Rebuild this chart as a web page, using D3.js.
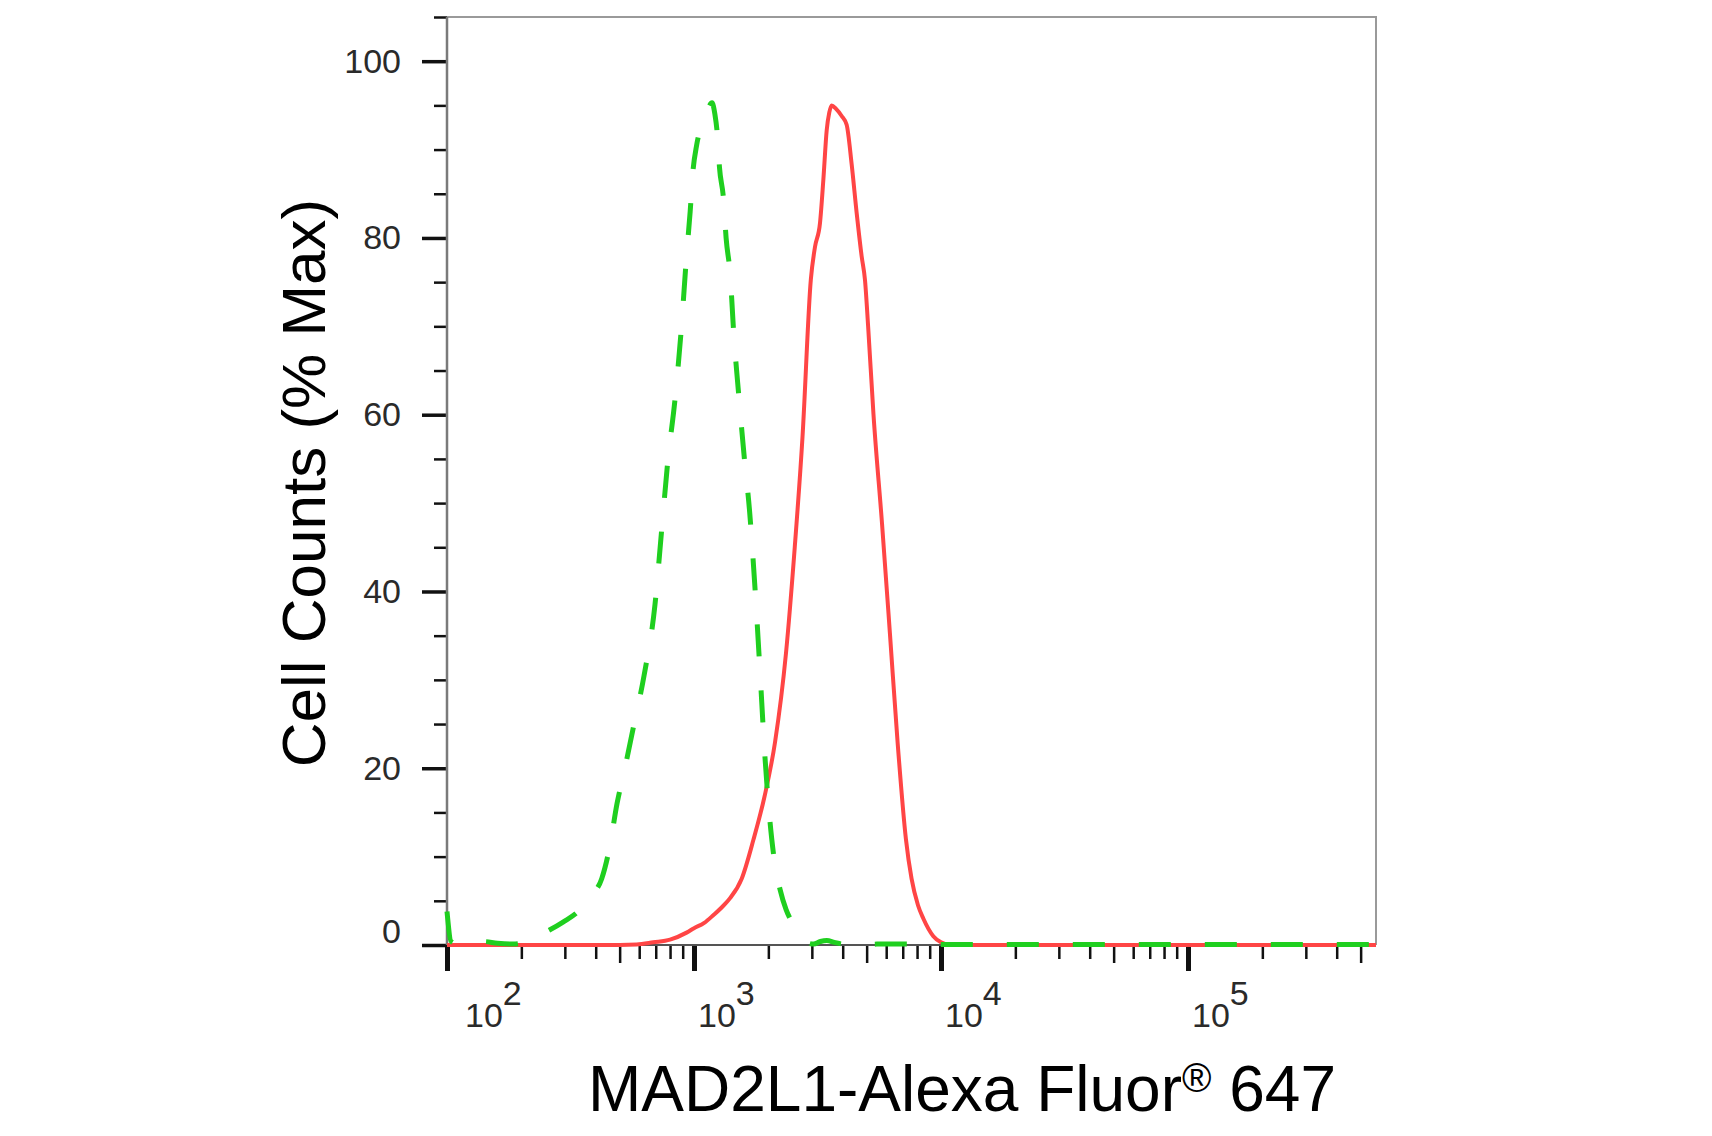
<!DOCTYPE html>
<html>
<head>
<meta charset="utf-8">
<script src="https://cdn.jsdelivr.net/npm/d3@7"></script>
<style>
  body { margin: 0; background: #fff; }
  svg { display: block; }
</style>
</head>
<body>
<div id="chart"></div>
<script>
// isotype control (green dashed) and MAD2L1 stained (red solid) histograms
const isotypeX = [100, 104, 112, 125, 140, 160, 185, 205, 227, 260, 295, 340, 385, 423, 455, 488, 525, 567, 628, 695, 740, 785, 836, 890, 933, 965, 990, 1025, 1080, 1124, 1183, 1215, 1245, 1268, 1316, 1349, 1400, 1450, 1520, 1600, 1680, 1760, 1850, 1930, 2030, 2130, 2230, 2360, 2490, 2650, 2850, 3050, 3250, 3450, 3700, 4000, 4600, 5500, 6500, 8000, 10000, 15000, 25000, 40000, 70000, 120000, 200000, 350000, 570000];
const isotypeY = [3.8, 0.4, 0.1, 0.3, 0.4, 0.2, 0.1, 0.3, 0.9, 1.7, 2.6, 3.8, 5.6, 7.5, 11, 16, 20, 24.5, 30.5, 38.5, 47, 55, 61.5, 70, 78, 83, 87.5, 90.5, 93, 94.2, 95.3, 94, 91.5, 88, 84.5, 80, 76, 69, 62, 55, 49, 41, 31, 22, 14, 9, 6.3, 4, 2.6, 1.2, 0.3, 0.1, 0.4, 0.5, 0.3, 0.1, 0, 0.1, 0.1, 0.1, 0.05, 0.05, 0.05, 0.05, 0.05, 0.05, 0.05, 0.05, 0.05];

const mad2l1X = [100, 300, 500, 586, 684, 800, 933, 1000, 1100, 1200, 1300, 1400, 1560, 1740, 1930, 2130, 2357, 2558, 2750, 2972, 3090, 3237, 3340, 3446, 3530, 3606, 3760, 3962, 4150, 4346, 4557, 4774, 4925, 5070, 5330, 5770, 6210, 6670, 7210, 7600, 8070, 8480, 9310, 10000, 10870, 20000, 50000, 100000, 200000, 577000];
const mad2l1Y = [0, 0, 0, 0.05, 0.3, 0.6, 1.4, 1.9, 2.5, 3.4, 4.3, 5.3, 7.5, 11.9, 16.8, 23, 33, 45, 57.5, 75.3, 79, 81.7, 86.6, 92.2, 94.2, 95, 94.6, 93.8, 92.8, 88.4, 82.8, 77.9, 75.2, 70, 60, 47.7, 35.3, 23, 12, 7.5, 4.5, 3.0, 1.0, 0.3, 0, 0, 0, 0, 0, 0];

// axis ticks and labels
const xDecades = [2, 3, 4, 5];
const yMajorTicks = [0, 20, 40, 60, 80, 100];
const xTitle = "MAD2L1-Alexa Fluor";
const xTitleMark = "®";
const xTitleEnd = " 647";
const yTitle = "Cell Counts (% Max)";

const W = 1712, H = 1136;
const plot = { left: 447, right: 1376, top: 17, bottom: 945 };

const svg = d3.select('#chart')
    .append('svg')
    .attr('width', W)
    .attr('height', H);

svg.append('rect').attr('width', W).attr('height', H).attr('fill', '#fff');

const xScale = d3.scaleLog().domain([100, 577000]).range([plot.left, plot.right]);
const yScale = d3.scaleLinear().domain([0, 105]).range([plot.bottom, plot.top]);

// frame (top and right edges)
svg.append('path')
    .attr('d', `M${plot.left},${plot.top}H${plot.right}V${plot.bottom}`)
    .attr('fill', 'none')
    .attr('stroke', '#9a9a9a')
    .attr('stroke-width', 2);

// y axis
const yMinorTicks = d3.range(5, 110, 5).filter(v => v % 20 !== 0);

const yMinor = svg.append('g')
    .attr('transform', 'translate(' + plot.left + ',0)')
    .call(d3.axisLeft(yScale).tickValues(yMinorTicks).tickSize(13).tickFormat(''));
yMinor.select('.domain').remove();
yMinor.selectAll('.tick line').attr('stroke', '#111').attr('stroke-width', 2.5);

const yMajor = svg.append('g')
    .attr('transform', 'translate(' + plot.left + ',0)')
    .call(d3.axisLeft(yScale).tickValues(yMajorTicks).tickSize(25).tickPadding(21));
yMajor.select('.domain').remove();
yMajor.selectAll('.tick line').attr('stroke', '#111').attr('stroke-width', 3.5);
yMajor.selectAll('.tick text')
    .attr('fill', '#2a2a2a')
    .style('font-family', '"Liberation Sans Narrow", "Arial Narrow", "Liberation Sans", sans-serif')
    .style('font-size', '34px')
    .filter(d => d === 0)
    .attr('dy', '-0.08em');

svg.append('line')
    .attr('x1', plot.left).attr('x2', plot.left)
    .attr('y1', plot.top).attr('y2', plot.bottom)
    .attr('stroke', '#7a7a7a')
    .attr('stroke-width', 2.5);

// x axis
const xMinorTicks = [];
xDecades.forEach(d => {
    for (let m = 2; m <= 9; m++) {
        const v = m * Math.pow(10, d);
        if (v <= xScale.domain()[1]) xMinorTicks.push(v);
    }
});

const xMinor = svg.append('g')
    .attr('transform', 'translate(0,' + plot.bottom + ')')
    .call(d3.axisBottom(xScale).tickValues(xMinorTicks).tickSize(14).tickFormat(''));
xMinor.select('.domain').remove();
xMinor.selectAll('.tick line')
    .attr('stroke', '#111')
    .attr('stroke-width', 2.5)
    .attr('y2', d => Math.round(d / Math.pow(10, Math.floor(Math.log10(d) + 1e-9))) === 5 ? 18 : 14);

const xMajor = svg.append('g')
    .attr('transform', 'translate(0,' + plot.bottom + ')')
    .call(d3.axisBottom(xScale).tickValues(xDecades.map(d => Math.pow(10, d))).tickSize(26).tickFormat(''));
xMajor.select('.domain').remove();
xMajor.selectAll('.tick line').attr('stroke', '#111').attr('stroke-width', 5);

svg.append('line')
    .attr('x1', plot.left).attr('x2', plot.right)
    .attr('y1', plot.bottom).attr('y2', plot.bottom)
    .attr('stroke', '#555')
    .attr('stroke-width', 2);

const xLabels = svg.append('g')
    .style('font-family', '"Liberation Sans Narrow", "Arial Narrow", "Liberation Sans", sans-serif')
    .style('font-size', '34px')
    .attr('fill', '#2a2a2a');

xDecades.forEach((d, i) => {
    const t = xLabels.append('text')
        .attr('x', xScale(Math.pow(10, d)) + (i === 0 ? 18 : 4))
        .attr('y', 1027);
    t.append('tspan').text('10');
    t.append('tspan').attr('dy', -22).text(d);
});

// curves
const line = d3.line()
    .x(d => xScale(d[0]))
    .y(d => yScale(d[1]))
    .curve(d3.curveMonotoneX);

svg.append('path')
    .datum(mad2l1X.map((x, i) => [x, mad2l1Y[i]]))
    .attr('d', line)
    .attr('fill', 'none')
    .attr('stroke', '#ff4545')
    .attr('stroke-width', 4)
    .attr('stroke-linejoin', 'round');

svg.append('path')
    .datum(isotypeX.map((x, i) => [x, isotypeY[i]]))
    .attr('d', line)
    .attr('fill', 'none')
    .attr('stroke', '#1fcf1f')
    .attr('stroke-width', 5)
    .attr('stroke-dasharray', '32,34');

// titles
const xt = svg.append('text')
    .attr('x', 962)
    .attr('y', 1111)
    .attr('text-anchor', 'middle')
    .style('font-family', '"Liberation Sans", Arial, sans-serif')
    .style('font-size', '64px')
    .attr('fill', '#000');
xt.append('tspan').text(xTitle);
xt.append('tspan').attr('dy', -19).style('font-size', '40px').text(xTitleMark);
xt.append('tspan').attr('dy', 19).text(xTitleEnd);

svg.append('text')
    .attr('transform', 'translate(325,483) rotate(-90)')
    .attr('text-anchor', 'middle')
    .style('font-family', '"Liberation Sans", Arial, sans-serif')
    .style('font-size', '62px')
    .attr('fill', '#000')
    .text(yTitle);
</script>
</body>
</html>
